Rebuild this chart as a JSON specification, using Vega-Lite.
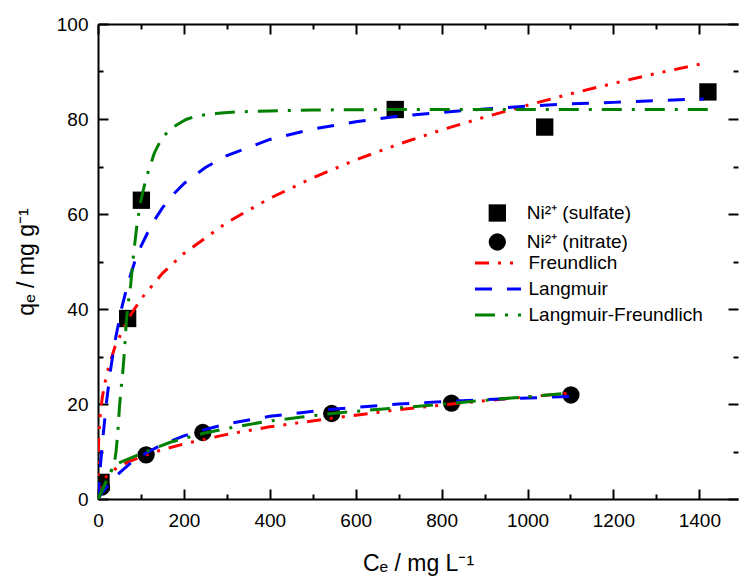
{
  "$schema": "https://vega.github.io/schema/vega-lite/v6.json",
  "width": 640,
  "height": 475,
  "autosize": "none",
  "padding": {"left": 98, "top": 24, "right": 1, "bottom": 77},
  "background": "white",
  "config": {
    "view": {"stroke": null},
    "font": "Liberation Sans",
    "axis": {"grid": false, "domainColor": "black", "domainWidth": 2, "tickColor": "black", "tickWidth": 2, "labelFont": "Liberation Sans", "labelFontSize": 19, "labelColor": "black", "titleFont": "Liberation Sans", "titleFontSize": 23, "titleFontWeight": "normal", "titleColor": "black", "labelFlush": false, "labelOverlap": false},
    "legend": {"labelFont": "Liberation Sans", "labelFontSize": 19, "labelColor": "black", "padding": 0, "titlePadding": 0, "labelLimit": 0}
  },
  "datasets": {
    "pts": [
      {"ion": "Ni²⁺ (sulfate)", "C": 7, "q": 3.5},
      {"ion": "Ni²⁺ (sulfate)", "C": 69, "q": 38.0},
      {"ion": "Ni²⁺ (sulfate)", "C": 101, "q": 62.9},
      {"ion": "Ni²⁺ (sulfate)", "C": 692, "q": 82.0},
      {"ion": "Ni²⁺ (sulfate)", "C": 1040, "q": 78.3},
      {"ion": "Ni²⁺ (sulfate)", "C": 1420, "q": 85.7},
      {"ion": "Ni²⁺ (nitrate)", "C": 8, "q": 2.5},
      {"ion": "Ni²⁺ (nitrate)", "C": 112, "q": 9.3},
      {"ion": "Ni²⁺ (nitrate)", "C": 244, "q": 14.0},
      {"ion": "Ni²⁺ (nitrate)", "C": 544, "q": 18.0},
      {"ion": "Ni²⁺ (nitrate)", "C": 823, "q": 20.2},
      {"ion": "Ni²⁺ (nitrate)", "C": 1101, "q": 21.9}
    ],
    "curves": [
      {"ion": "sulfate", "model": "Freundlich", "C": 0, "q": 0},
      {"ion": "sulfate", "model": "Freundlich", "C": 0.5, "q": 8.9},
      {"ion": "sulfate", "model": "Freundlich", "C": 1, "q": 10.9},
      {"ion": "sulfate", "model": "Freundlich", "C": 2, "q": 13.3},
      {"ion": "sulfate", "model": "Freundlich", "C": 5, "q": 17.5},
      {"ion": "sulfate", "model": "Freundlich", "C": 10, "q": 21.4},
      {"ion": "sulfate", "model": "Freundlich", "C": 20, "q": 26.3},
      {"ion": "sulfate", "model": "Freundlich", "C": 40, "q": 32.2},
      {"ion": "sulfate", "model": "Freundlich", "C": 70, "q": 37.9},
      {"ion": "sulfate", "model": "Freundlich", "C": 100, "q": 42.1},
      {"ion": "sulfate", "model": "Freundlich", "C": 150, "q": 47.5},
      {"ion": "sulfate", "model": "Freundlich", "C": 200, "q": 51.7},
      {"ion": "sulfate", "model": "Freundlich", "C": 300, "q": 58.2},
      {"ion": "sulfate", "model": "Freundlich", "C": 400, "q": 63.3},
      {"ion": "sulfate", "model": "Freundlich", "C": 500, "q": 67.6},
      {"ion": "sulfate", "model": "Freundlich", "C": 600, "q": 71.4},
      {"ion": "sulfate", "model": "Freundlich", "C": 700, "q": 74.7},
      {"ion": "sulfate", "model": "Freundlich", "C": 800, "q": 77.7},
      {"ion": "sulfate", "model": "Freundlich", "C": 900, "q": 80.4},
      {"ion": "sulfate", "model": "Freundlich", "C": 1000, "q": 82.9},
      {"ion": "sulfate", "model": "Freundlich", "C": 1100, "q": 85.3},
      {"ion": "sulfate", "model": "Freundlich", "C": 1200, "q": 87.5},
      {"ion": "sulfate", "model": "Freundlich", "C": 1300, "q": 89.6},
      {"ion": "sulfate", "model": "Freundlich", "C": 1410, "q": 91.7},
      {"ion": "nitrate", "model": "Freundlich", "C": 0, "q": 0},
      {"ion": "nitrate", "model": "Freundlich", "C": 2, "q": 2.0},
      {"ion": "nitrate", "model": "Freundlich", "C": 5, "q": 2.8},
      {"ion": "nitrate", "model": "Freundlich", "C": 10, "q": 3.7},
      {"ion": "nitrate", "model": "Freundlich", "C": 20, "q": 4.8},
      {"ion": "nitrate", "model": "Freundlich", "C": 40, "q": 6.3},
      {"ion": "nitrate", "model": "Freundlich", "C": 70, "q": 7.8},
      {"ion": "nitrate", "model": "Freundlich", "C": 112, "q": 9.3},
      {"ion": "nitrate", "model": "Freundlich", "C": 150, "q": 10.4},
      {"ion": "nitrate", "model": "Freundlich", "C": 200, "q": 11.6},
      {"ion": "nitrate", "model": "Freundlich", "C": 300, "q": 13.6},
      {"ion": "nitrate", "model": "Freundlich", "C": 400, "q": 15.2},
      {"ion": "nitrate", "model": "Freundlich", "C": 544, "q": 17.0},
      {"ion": "nitrate", "model": "Freundlich", "C": 700, "q": 18.8},
      {"ion": "nitrate", "model": "Freundlich", "C": 823, "q": 20.0},
      {"ion": "nitrate", "model": "Freundlich", "C": 950, "q": 21.1},
      {"ion": "nitrate", "model": "Freundlich", "C": 1100, "q": 22.3},
      {"ion": "sulfate", "model": "Langmuir", "C": 0, "q": 0},
      {"ion": "sulfate", "model": "Langmuir", "C": 5, "q": 6.3},
      {"ion": "sulfate", "model": "Langmuir", "C": 10, "q": 11.7},
      {"ion": "sulfate", "model": "Langmuir", "C": 20, "q": 20.6},
      {"ion": "sulfate", "model": "Langmuir", "C": 30, "q": 27.7},
      {"ion": "sulfate", "model": "Langmuir", "C": 40, "q": 33.4},
      {"ion": "sulfate", "model": "Langmuir", "C": 55, "q": 40.2},
      {"ion": "sulfate", "model": "Langmuir", "C": 70, "q": 45.5},
      {"ion": "sulfate", "model": "Langmuir", "C": 85, "q": 49.8},
      {"ion": "sulfate", "model": "Langmuir", "C": 100, "q": 53.2},
      {"ion": "sulfate", "model": "Langmuir", "C": 125, "q": 57.8},
      {"ion": "sulfate", "model": "Langmuir", "C": 150, "q": 61.3},
      {"ion": "sulfate", "model": "Langmuir", "C": 175, "q": 64.1},
      {"ion": "sulfate", "model": "Langmuir", "C": 200, "q": 66.4},
      {"ion": "sulfate", "model": "Langmuir", "C": 250, "q": 69.8},
      {"ion": "sulfate", "model": "Langmuir", "C": 300, "q": 72.3},
      {"ion": "sulfate", "model": "Langmuir", "C": 400, "q": 75.7},
      {"ion": "sulfate", "model": "Langmuir", "C": 500, "q": 77.9},
      {"ion": "sulfate", "model": "Langmuir", "C": 600, "q": 79.4},
      {"ion": "sulfate", "model": "Langmuir", "C": 700, "q": 80.6},
      {"ion": "sulfate", "model": "Langmuir", "C": 800, "q": 81.4},
      {"ion": "sulfate", "model": "Langmuir", "C": 900, "q": 82.1},
      {"ion": "sulfate", "model": "Langmuir", "C": 1000, "q": 82.7},
      {"ion": "sulfate", "model": "Langmuir", "C": 1100, "q": 83.2},
      {"ion": "sulfate", "model": "Langmuir", "C": 1200, "q": 83.5},
      {"ion": "sulfate", "model": "Langmuir", "C": 1300, "q": 83.9},
      {"ion": "sulfate", "model": "Langmuir", "C": 1410, "q": 84.2},
      {"ion": "nitrate", "model": "Langmuir", "C": 0, "q": 0},
      {"ion": "nitrate", "model": "Langmuir", "C": 10, "q": 1.4},
      {"ion": "nitrate", "model": "Langmuir", "C": 25, "q": 3.1},
      {"ion": "nitrate", "model": "Langmuir", "C": 50, "q": 5.5},
      {"ion": "nitrate", "model": "Langmuir", "C": 75, "q": 7.5},
      {"ion": "nitrate", "model": "Langmuir", "C": 112, "q": 9.7},
      {"ion": "nitrate", "model": "Langmuir", "C": 150, "q": 11.5},
      {"ion": "nitrate", "model": "Langmuir", "C": 200, "q": 13.3},
      {"ion": "nitrate", "model": "Langmuir", "C": 244, "q": 14.5},
      {"ion": "nitrate", "model": "Langmuir", "C": 300, "q": 15.8},
      {"ion": "nitrate", "model": "Langmuir", "C": 400, "q": 17.4},
      {"ion": "nitrate", "model": "Langmuir", "C": 544, "q": 18.9},
      {"ion": "nitrate", "model": "Langmuir", "C": 700, "q": 20.0},
      {"ion": "nitrate", "model": "Langmuir", "C": 823, "q": 20.6},
      {"ion": "nitrate", "model": "Langmuir", "C": 950, "q": 21.1},
      {"ion": "nitrate", "model": "Langmuir", "C": 1100, "q": 21.6},
      {"ion": "sulfate", "model": "Langmuir-Freundlich", "C": 0, "q": 0},
      {"ion": "sulfate", "model": "Langmuir-Freundlich", "C": 20, "q": 3.9},
      {"ion": "sulfate", "model": "Langmuir-Freundlich", "C": 38, "q": 7.4},
      {"ion": "sulfate", "model": "Langmuir-Freundlich", "C": 42, "q": 10.0},
      {"ion": "sulfate", "model": "Langmuir-Freundlich", "C": 46, "q": 13.8},
      {"ion": "sulfate", "model": "Langmuir-Freundlich", "C": 50, "q": 19.4},
      {"ion": "sulfate", "model": "Langmuir-Freundlich", "C": 54, "q": 23.5},
      {"ion": "sulfate", "model": "Langmuir-Freundlich", "C": 58, "q": 27.0},
      {"ion": "sulfate", "model": "Langmuir-Freundlich", "C": 62, "q": 31.7},
      {"ion": "sulfate", "model": "Langmuir-Freundlich", "C": 66, "q": 37.5},
      {"ion": "sulfate", "model": "Langmuir-Freundlich", "C": 70, "q": 41.0},
      {"ion": "sulfate", "model": "Langmuir-Freundlich", "C": 76, "q": 45.0},
      {"ion": "sulfate", "model": "Langmuir-Freundlich", "C": 83, "q": 51.7},
      {"ion": "sulfate", "model": "Langmuir-Freundlich", "C": 91, "q": 58.0},
      {"ion": "sulfate", "model": "Langmuir-Freundlich", "C": 100, "q": 62.9},
      {"ion": "sulfate", "model": "Langmuir-Freundlich", "C": 112, "q": 67.5},
      {"ion": "sulfate", "model": "Langmuir-Freundlich", "C": 131, "q": 72.8},
      {"ion": "sulfate", "model": "Langmuir-Freundlich", "C": 147, "q": 75.7},
      {"ion": "sulfate", "model": "Langmuir-Freundlich", "C": 165, "q": 77.6},
      {"ion": "sulfate", "model": "Langmuir-Freundlich", "C": 182, "q": 78.7},
      {"ion": "sulfate", "model": "Langmuir-Freundlich", "C": 205, "q": 79.9},
      {"ion": "sulfate", "model": "Langmuir-Freundlich", "C": 232, "q": 80.7},
      {"ion": "sulfate", "model": "Langmuir-Freundlich", "C": 279, "q": 81.2},
      {"ion": "sulfate", "model": "Langmuir-Freundlich", "C": 325, "q": 81.5},
      {"ion": "sulfate", "model": "Langmuir-Freundlich", "C": 400, "q": 81.7},
      {"ion": "sulfate", "model": "Langmuir-Freundlich", "C": 500, "q": 81.9},
      {"ion": "sulfate", "model": "Langmuir-Freundlich", "C": 700, "q": 82.0},
      {"ion": "sulfate", "model": "Langmuir-Freundlich", "C": 1000, "q": 82.0},
      {"ion": "sulfate", "model": "Langmuir-Freundlich", "C": 1200, "q": 82.0},
      {"ion": "sulfate", "model": "Langmuir-Freundlich", "C": 1420, "q": 82.0},
      {"ion": "nitrate", "model": "Langmuir-Freundlich", "C": 0, "q": 0},
      {"ion": "nitrate", "model": "Langmuir-Freundlich", "C": 38, "q": 7.2},
      {"ion": "nitrate", "model": "Langmuir-Freundlich", "C": 112, "q": 10.0},
      {"ion": "nitrate", "model": "Langmuir-Freundlich", "C": 170, "q": 12.0},
      {"ion": "nitrate", "model": "Langmuir-Freundlich", "C": 244, "q": 13.8},
      {"ion": "nitrate", "model": "Langmuir-Freundlich", "C": 320, "q": 15.2},
      {"ion": "nitrate", "model": "Langmuir-Freundlich", "C": 391, "q": 16.3},
      {"ion": "nitrate", "model": "Langmuir-Freundlich", "C": 470, "q": 17.2},
      {"ion": "nitrate", "model": "Langmuir-Freundlich", "C": 546, "q": 18.0},
      {"ion": "nitrate", "model": "Langmuir-Freundlich", "C": 640, "q": 18.8},
      {"ion": "nitrate", "model": "Langmuir-Freundlich", "C": 732, "q": 19.4},
      {"ion": "nitrate", "model": "Langmuir-Freundlich", "C": 830, "q": 20.2},
      {"ion": "nitrate", "model": "Langmuir-Freundlich", "C": 926, "q": 21.0},
      {"ion": "nitrate", "model": "Langmuir-Freundlich", "C": 1010, "q": 21.6},
      {"ion": "nitrate", "model": "Langmuir-Freundlich", "C": 1100, "q": 22.3}
    ]
  },
  "layer": [
    {
      "data": {"name": "pts"},
      "mark": {"type": "point", "filled": true, "opacity": 1, "size": 300, "color": "black", "strokeWidth": 0, "clip": true},
      "encoding": {
        "x": {"field": "C", "type": "quantitative", "scale": {"domain": [0, 1490], "nice": false, "zero": false},
          "axis": {"orient": "top", "values": [0,100,200,300,400,500,600,700,800,900,1000,1100,1200,1300,1400], "labels": false, "title": null,
            "tickSize": {"condition": {"test": "datum.value % 200 === 0", "value": -10}, "value": -5}}},
        "y": {"field": "q", "type": "quantitative", "scale": {"domain": [0, 100], "nice": false, "zero": false},
          "axis": {"orient": "right", "values": [0,10,20,30,40,50,60,70,80,90,100], "labels": false, "title": null, "domain": false,
            "tickSize": {"condition": {"test": "datum.value % 20 === 0", "value": -10}, "value": -5}}},
        "shape": {"field": "ion", "type": "nominal",
          "scale": {"domain": ["Ni²⁺ (sulfate)", "Ni²⁺ (nitrate)"], "range": ["square", "circle"]},
          "legend": {"orient": "none", "legendX": 389.8, "legendY": 179.5, "title": null, "symbolSize": 300, "symbolFillColor": "black", "symbolStrokeColor": "black", "symbolStrokeWidth": 0, "symbolOpacity": 1, "labelOffset": 20, "rowPadding": 9}}
      }
    },
    {
      "data": {"name": "curves"},
      "mark": {"type": "line", "strokeWidth": 3, "clip": true},
      "encoding": {
        "x": {"field": "C", "type": "quantitative", "scale": {"domain": [0, 1490], "nice": false, "zero": false},
          "axis": {"orient": "bottom", "values": [0,100,200,300,400,500,600,700,800,900,1000,1100,1200,1300,1400],
            "labelExpr": "datum.value % 200 === 0 ? format(datum.value, 'd') : ''",
            "tickSize": {"condition": {"test": "datum.value % 200 === 0", "value": -10}, "value": -5},
            "labelPadding": 22, "title": "Cₑ / mg L⁻¹", "titleBaseline": "alphabetic", "titleY": 71}},
        "y": {"field": "q", "type": "quantitative", "scale": {"domain": [0, 100], "nice": false, "zero": false},
          "axis": {"orient": "left", "values": [0,10,20,30,40,50,60,70,80,90,100],
            "labelExpr": "datum.value % 20 === 0 ? format(datum.value, 'd') : ''",
            "tickSize": {"condition": {"test": "datum.value % 20 === 0", "value": -10}, "value": -5},
            "labelPadding": 20, "title": "qₑ / mg g⁻¹", "titleBaseline": "alphabetic", "titleX": -65, "titleY": 237.5}},
        "detail": {"field": "ion", "type": "nominal"},
        "color": {"field": "model", "type": "nominal",
          "scale": {"domain": ["Freundlich", "Langmuir", "Langmuir-Freundlich"], "range": ["#ff0000", "#0000ff", "#008000"]},
          "legend": {"orient": "none", "legendX": 375.5, "legendY": 229.5, "title": null, "symbolType": "stroke", "symbolSize": 2116, "symbolStrokeWidth": 3, "labelOffset": 6, "rowPadding": 6, "clipHeight": 19, "labelLimit": 0}},
        "strokeDash": {"field": "model", "type": "nominal",
          "scale": {"domain": ["Freundlich", "Langmuir", "Langmuir-Freundlich"], "range": [[14, 9, 3, 9, 3, 9], [17, 15], [20, 10, 3, 10]]},
          "legend": {"orient": "none", "legendX": 375.5, "legendY": 229.5, "title": null, "symbolType": "stroke", "symbolSize": 2116, "symbolStrokeWidth": 3, "labelOffset": 6, "rowPadding": 6, "clipHeight": 19, "labelLimit": 0}}
      }
    }
  ],
  "resolve": {"axis": {"x": "independent", "y": "independent"}}
}
